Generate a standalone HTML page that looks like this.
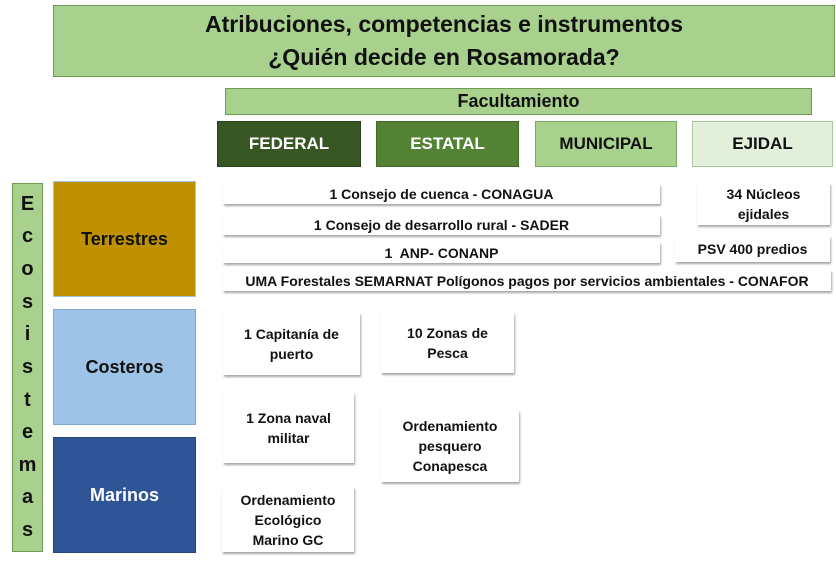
<!DOCTYPE html>
<html><head><meta charset="utf-8"><style>
body{margin:0;width:836px;height:572px;background:#fff;position:relative;overflow:hidden;font-family:"Liberation Sans",sans-serif;font-weight:bold;}
.b{position:absolute;box-sizing:border-box;display:flex;align-items:center;justify-content:center;text-align:center;}
.w{background:#fff;box-shadow:1px 2px 2px rgba(0,0,0,0.35);font-size:14px;color:#111;line-height:20px;}
</style></head><body>
<div class="b" style="left:53px;top:5px;width:782px;height:72px;background:#a9d18e;border:1px solid #6f9a52;font-size:23px;line-height:33px;color:#111">Atribuciones, competencias e instrumentos<br>¿Quién decide en Rosamorada?</div>
<div class="b" style="left:225px;top:88px;width:587px;height:27px;background:#a9d18e;border:1px solid #6f9a52;font-size:18px;color:#111">Facultamiento</div>
<div class="b" style="left:217px;top:121px;width:144px;height:46px;background:#375623;border:1px solid #2a4219;font-size:17px;color:#fff">FEDERAL</div>
<div class="b" style="left:376px;top:121px;width:143px;height:46px;background:#548235;border:1px solid #3f6a26;font-size:17px;color:#fff">ESTATAL</div>
<div class="b" style="left:535px;top:121px;width:142px;height:46px;background:#a9d18e;border:1px solid #7ea866;font-size:17px;color:#111">MUNICIPAL</div>
<div class="b" style="left:692px;top:121px;width:141px;height:46px;background:#e2efda;border:1px solid #a9c79a;font-size:17px;color:#111">EJIDAL</div>
<div class="b" style="left:12px;top:183px;width:31px;height:369px;background:#a9d18e;border:1px solid #6f9a52;flex-direction:column;justify-content:space-around;font-size:20px;color:#111;padding:4px 0">
<span>E</span><span>c</span><span>o</span><span>s</span><span>i</span><span>s</span><span>t</span><span>e</span><span>m</span><span>a</span><span>s</span></div>
<div class="b" style="left:53px;top:181px;width:143px;height:116px;background:#bf9000;border:1px solid #9dc3e6;font-size:18px;color:#111">Terrestres</div>
<div class="b" style="left:53px;top:309px;width:143px;height:116px;background:#9dc3e6;border:1px solid #7fa9d0;font-size:18px;color:#111">Costeros</div>
<div class="b" style="left:53px;top:437px;width:143px;height:116px;background:#2f5597;border:1px solid #24457d;font-size:18px;color:#fff">Marinos</div>
<div class="b w" style="left:223px;top:184px;width:437px;height:20px">1 Consejo de cuenca - CONAGUA</div>
<div class="b w" style="left:223px;top:215px;width:437px;height:20px">1 Consejo de desarrollo rural - SADER</div>
<div class="b w" style="left:223px;top:242px;width:437px;height:21px">1&nbsp; ANP- CONANP</div>
<div class="b w" style="left:223px;top:270px;width:608px;height:21px">UMA Forestales SEMARNAT Polígonos pagos por servicios ambientales - CONAFOR</div>
<div class="b w" style="left:697px;top:183px;width:133px;height:42px">34 Núcleos<br>ejidales</div>
<div class="b w" style="left:675px;top:236px;width:155px;height:26px">PSV 400 predios</div>
<div class="b w" style="left:223px;top:313px;width:137px;height:62px">1 Capitanía de<br>puerto</div>
<div class="b w" style="left:381px;top:313px;width:133px;height:60px">10 Zonas de<br>Pesca</div>
<div class="b w" style="left:223px;top:393px;width:131px;height:70px">1 Zona naval<br>militar</div>
<div class="b w" style="left:381px;top:410px;width:138px;height:72px">Ordenamiento<br>pesquero<br>Conapesca</div>
<div class="b w" style="left:222px;top:487px;width:132px;height:65px">Ordenamiento<br>Ecológico<br>Marino GC</div>
</body></html>
